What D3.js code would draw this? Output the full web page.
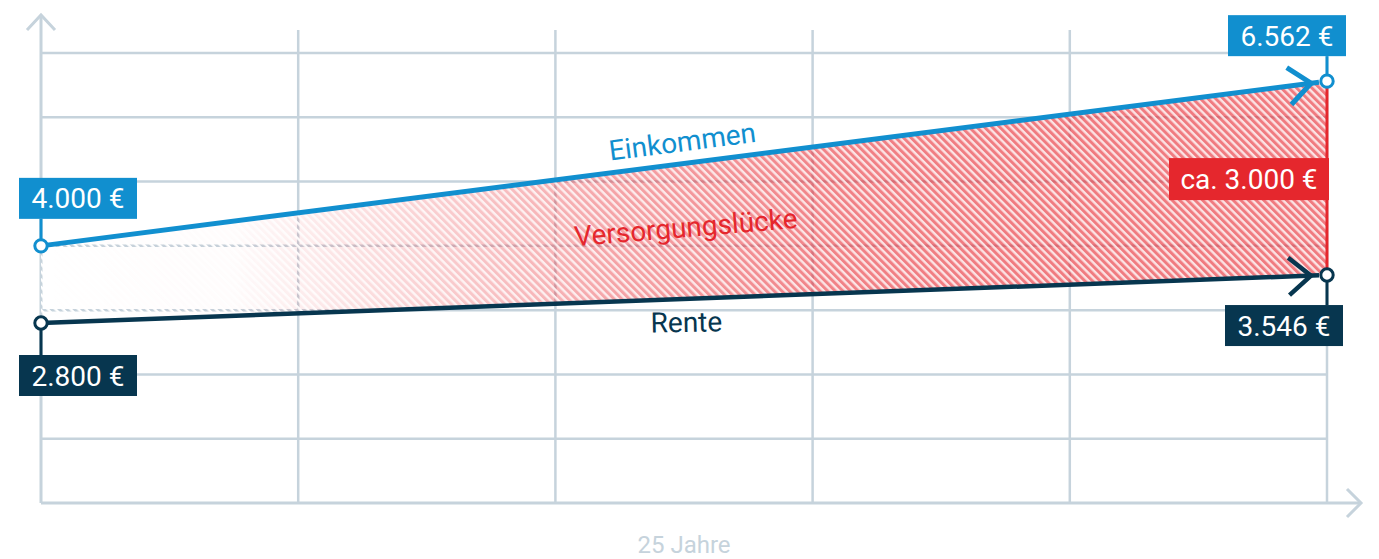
<!DOCTYPE html>
<meta charset="utf-8" />
<html>
<head>
<title>Versorgungslücke</title>
<script src="https://cdn.jsdelivr.net/npm/d3@7"></script>
<style>
  body { margin: 0; background: #fff; }
  text { font-family: Roboto, "Noto Sans", sans-serif; }
</style>
</head>
<body>
<div id="viz"></div>
<script>

// data
var years = [0, 25];
var einkommen = [4000, 6562];
var rente = [2800, 3546];
var xTicks = [0, 5, 10, 15, 20, 25];
var yTicks = [1000, 2000, 3000, 4000, 5000, 6000, 7000];
var startLabels = ["4.000 €", "2.800 €"];
var endLabels = ["6.562 €", "3.546 €"];
var gapLabel = "ca. 3.000 €";
var seriesNames = ["Einkommen", "Rente"];
var gapName = "Versorgungslücke";
var xTitle = "25 Jahre";

var width = 1379, height = 559;
var blue = "#118fcf", navy = "#07364f", red = "#e5272d", grey = "#c6d3dc";

var svg = d3.select("#viz").append("svg")
    .attr("width", width)
    .attr("height", height);

var x = d3.scaleLinear().domain([0, 25]).range([41, 1327]);
var y = d3.scaleLinear().domain([0, 7000]).range([503, 53]);

var defs = svg.append("defs");

// hatch patterns
var period = 5.4, redW = 3;
defs.append("pattern")
    .attr("id", "whiteHatch")
    .attr("patternUnits", "userSpaceOnUse")
    .attr("width", period).attr("height", 10)
    .attr("patternTransform", "rotate(-45)")
  .append("rect")
    .attr("x", redW).attr("width", period - redW).attr("height", 10)
    .attr("fill", "#fff");

var rp = defs.append("pattern")
    .attr("id", "redHatch")
    .attr("patternUnits", "userSpaceOnUse")
    .attr("width", period).attr("height", 10)
    .attr("patternTransform", "rotate(-45)");
rp.append("rect").attr("width", period).attr("height", 10)
    .attr("fill", red).attr("fill-opacity", 0.13);
rp.append("rect").attr("width", redW).attr("height", 10)
    .attr("fill", red).attr("fill-opacity", 0.55);

// fade from left
var grad = defs.append("linearGradient")
    .attr("id", "fade")
    .attr("gradientUnits", "userSpaceOnUse")
    .attr("x1", x(0)).attr("x2", x(25)).attr("y1", 0).attr("y2", 0);
[[0, 0], [0.15, 0.03], [0.3, 0.35], [0.45, 0.7], [0.62, 0.95], [0.75, 1]].forEach(function(s) {
  grad.append("stop").attr("offset", s[0]).attr("stop-color", "#fff").attr("stop-opacity", s[1]);
});
defs.append("mask").attr("id", "fadeMask")
  .append("rect")
    .attr("x", 0).attr("y", 0).attr("width", width).attr("height", height)
    .attr("fill", "url(#fade)");

// grid
var grid = svg.append("g").attr("stroke", grey).attr("stroke-width", 2.5);
grid.selectAll("line.h")
  .data(yTicks)
  .enter().append("line")
    .attr("x1", x(0)).attr("x2", x(25))
    .attr("y1", function(d) { return y(d); })
    .attr("y2", function(d) { return y(d); });
grid.selectAll("line.v")
  .data(xTicks.slice(1))
  .enter().append("line")
    .attr("x1", function(d) { return x(d); })
    .attr("x2", function(d) { return x(d); })
    .attr("y1", 30).attr("y2", y(0));

// axes with arrows
var axes = svg.append("g").attr("stroke", grey).attr("stroke-width", 3)
    .attr("fill", "none").attr("stroke-linejoin", "miter");
axes.append("line").attr("x1", x(0)).attr("x2", x(0)).attr("y1", 15).attr("y2", y(0));
axes.append("line").attr("x1", x(0)).attr("x2", 1361).attr("y1", y(0)).attr("y2", y(0));
axes.append("path").attr("d", "M27,30 L41,15 L55,30");
axes.append("path").attr("d", "M1347,489 L1361,503 L1347,517");

// gap area
var area = [[years[0], einkommen[0]], [years[1], einkommen[1]], [years[1], rente[1]], [years[0], rente[0]]];
var areaPath = d3.line().x(function(d) { return x(d[0]); }).y(function(d) { return y(d[1]); });
svg.append("path")
    .attr("d", areaPath(area) + "Z")
    .attr("fill", "url(#whiteHatch)");
svg.append("path")
    .attr("d", areaPath(area) + "Z")
    .attr("fill", "url(#redHatch)")
    .attr("mask", "url(#fadeMask)");

// red gap line
svg.append("line")
    .attr("x1", x(25)).attr("x2", x(25))
    .attr("y1", y(einkommen[1])).attr("y2", y(rente[1]))
    .attr("stroke", red).attr("stroke-width", 3);

// series lines
function drawSeries(vals, color, w) {
  var x0 = x(years[0]), y0 = y(vals[0]), x1 = x(years[1]), y1 = y(vals[1]);
  svg.append("line")
      .attr("x1", x0).attr("y1", y0).attr("x2", x1 - 8).attr("y2", y1 + (y0 - y1) * 8 / (x1 - x0))
      .attr("stroke", color).attr("stroke-width", w);
  // chevron
  var ang = Math.atan2(y0 - y1, x0 - x1);
  var tipX = x1 - 16 * Math.cos(ang) * -1, tipY = y1 - 16 * Math.sin(ang) * -1;
  var L = 29, a = 40 * Math.PI / 180;
  var p1 = [tipX + L * Math.cos(ang - a), tipY + L * Math.sin(ang - a)];
  var p2 = [tipX + L * Math.cos(ang + a), tipY + L * Math.sin(ang + a)];
  svg.append("path")
      .attr("d", "M" + p1 + "L" + [tipX, tipY] + "L" + p2)
      .attr("fill", "none").attr("stroke", color).attr("stroke-width", w)
      .attr("stroke-linejoin", "miter");
}
drawSeries(einkommen, blue, 5);
drawSeries(rente, navy, 4.5);

// value labels with stems
function valueLabel(px, py, txt, color, boxX, boxY) {
  var bw = 118, bh = 41;
  var stemY = boxY < py ? boxY + bh : boxY;
  svg.append("line")
      .attr("x1", px).attr("x2", px).attr("y1", stemY).attr("y2", py)
      .attr("stroke", color).attr("stroke-width", 3);
  svg.append("rect")
      .attr("x", boxX).attr("y", boxY).attr("width", bw).attr("height", bh)
      .attr("fill", color);
  svg.append("text")
      .attr("x", boxX + bw / 2).attr("y", boxY + bh / 2 + 10)
      .attr("text-anchor", "middle")
      .attr("font-size", 28).attr("fill", "#fff")
      .text(txt);
  svg.append("circle")
      .attr("cx", px).attr("cy", py).attr("r", 6.2)
      .attr("fill", "#fff").attr("stroke", color).attr("stroke-width", 3);
}
valueLabel(x(0), y(einkommen[0]), startLabels[0], blue, x(0) - 22, y(einkommen[0]) - 68);
valueLabel(x(0), y(rente[0]), startLabels[1], navy, x(0) - 22, y(rente[0]) + 32);
valueLabel(x(25), y(einkommen[1]), endLabels[0], blue, x(25) - 99, y(einkommen[1]) - 66);
valueLabel(x(25), y(rente[1]), endLabels[1], navy, x(25) - 102, y(rente[1]) + 30);

// gap label
var gy = (y(einkommen[1]) + y(rente[1])) / 2;
svg.append("rect")
    .attr("x", x(25) - 158).attr("y", gy - 20).attr("width", 160).attr("height", 42)
    .attr("fill", red);
svg.append("text")
    .attr("x", x(25) - 78).attr("y", gy + 11)
    .attr("text-anchor", "middle")
    .attr("font-size", 28).attr("fill", "#fff")
    .text(gapLabel);

// series names along lines
function yAt(vals, t) { return y(vals[0] + (vals[1] - vals[0]) * t / 25); }
var slopeE = Math.atan2(y(einkommen[1]) - y(einkommen[0]), x(25) - x(0)) * 180 / Math.PI;
var slopeR = Math.atan2(y(rente[1]) - y(rente[0]), x(25) - x(0)) * 180 / Math.PI;
var mid = 12.55, mx = x(mid);

svg.append("text")
    .attr("transform", "translate(" + (mx - 3) + "," + (yAt(einkommen, mid) - 12) + ") rotate(" + slopeE + ")")
    .attr("text-anchor", "middle")
    .attr("font-size", 28).attr("fill", blue)
    .text(seriesNames[0]);

svg.append("text")
    .attr("transform", "translate(" + mx + "," + ((yAt(einkommen, mid) + yAt(rente, mid)) / 2 + 6) + ") rotate(" + (slopeE + slopeR) / 2 + ")")
    .attr("text-anchor", "middle")
    .attr("font-size", 28).attr("fill", red)
    .text(gapName);

svg.append("text")
    .attr("transform", "translate(" + mx + "," + (yAt(rente, mid) + 33) + ") rotate(" + slopeR / 2 + ")")
    .attr("text-anchor", "middle")
    .attr("font-size", 28).attr("fill", navy)
    .text(seriesNames[1]);

// x title
svg.append("text")
    .attr("x", (x(0) + x(25)) / 2).attr("y", 553)
    .attr("text-anchor", "middle")
    .attr("font-size", 24).attr("fill", grey)
    .text(xTitle);

</script>
</body>
</html>
